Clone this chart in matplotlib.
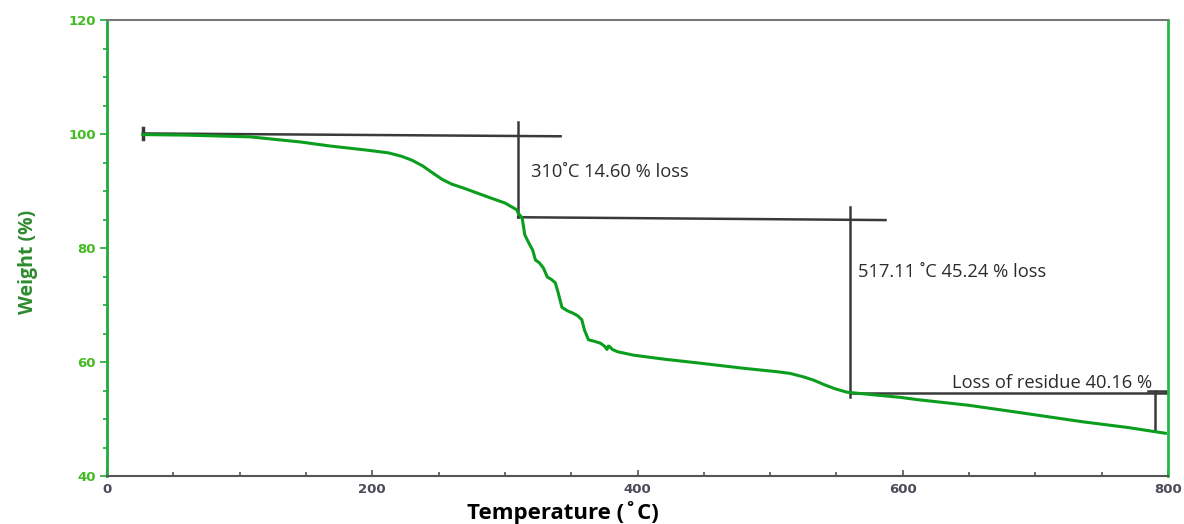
import matplotlib
matplotlib.use("Agg")
import matplotlib.pyplot as plt
from matplotlib.ticker import MultipleLocator

# TGA curve: temperature (°C) vs remaining weight (%)
temperature = [27, 60, 108, 146, 168, 195, 212, 222, 230, 238, 246, 253, 260, 269, 289, 300, 309,
               310, 313, 315, 318, 321, 323, 326, 329, 332, 335, 338, 340, 343, 347,
               351, 355, 358, 360, 363, 368, 372, 375, 377, 378, 379, 381, 385, 397,
               420, 447, 480, 505, 515, 525, 533, 541, 549, 558, 580, 598, 611, 650, 686, 736,
               770, 798]
weight = [99.9, 99.8, 99.5, 98.6, 97.9, 97.2, 96.7, 96.1, 95.4, 94.4, 93.1, 92.0, 91.2, 90.5, 88.8, 87.9, 86.7,
          86.1, 85.3, 82.3, 80.9, 79.6, 77.9, 77.4, 76.5, 74.9, 74.5, 73.9, 72.3, 69.6, 69.0,
          68.6, 68.1, 67.4, 65.6, 63.9, 63.6, 63.3, 62.8, 62.2, 62.8, 62.7, 62.2, 61.8, 61.2,
          60.5, 59.8, 58.9, 58.3, 58.0, 57.4, 56.8, 56.0, 55.3, 54.7, 54.2, 53.8, 53.4, 52.4, 51.2, 49.5,
          48.5, 47.5]

# Step markers: (x0, y0, x1, y1) segments in data units
step_hlines = [(27, 100.1, 342, 99.6), (310, 85.4, 587, 84.9), (560, 54.6, 800, 54.6)]
step_vlines = [(310, 85.4, 102.1), (560, 53.9, 87.2), (790, 48.1, 54.9)]
step_labels = ["310\u02daC 14.60 % loss", "517.11 \u02daC 45.24 % loss",
               "Loss of residue 40.16 %"]
label_pos = [(320, 93.3), (566, 75.8), (637, 56.4)]

x_ticks = [0, 200, 400, 600, 800]
y_ticks = [40, 60, 80, 100, 120]

fig = plt.figure(figsize=(11.84, 5.24), dpi=100)
ax = fig.add_axes([0.0904, 0.0916, 0.8961, 0.8702])

ax.plot(temperature, weight, color="#0b9e1e", lw=2.2, zorder=3,
        solid_joinstyle="round")

line_kw = dict(color="#3a3a3a", lw=1.8, zorder=2)
for x0, y0, x1, y1 in step_hlines:
    ax.plot([x0, x1], [y0, y1], **line_kw)
for x, y0, y1 in step_vlines:
    ax.plot([x, x], [y0, y1], **line_kw)
# end caps
ax.plot([27, 27], [99.2, 101.0], color="#3a3a3a", lw=2.5, zorder=2)
ax.plot([785, 800], [54.9, 54.9], **line_kw)

for (x, y), s in zip(label_pos, step_labels):
    ax.text(x, y, s, fontsize=13.2, color="#2b2b2b", va="center", ha="left",
            family=["Open Sans", "DejaVu Sans"])

ax.set_xlim(0, 800)
ax.set_ylim(40, 120)
ax.set_xticks(x_ticks)
ax.set_yticks(y_ticks)
ax.xaxis.set_minor_locator(MultipleLocator(50))
ax.yaxis.set_minor_locator(MultipleLocator(5))

ax.tick_params(axis="x", which="both", direction="in", colors="#555555",
               labelcolor="#4a4a5a", labelsize=9.5, pad=5)
ax.tick_params(axis="x", which="major", length=4, width=1.2)
ax.tick_params(axis="x", which="minor", length=3, width=1.2)
ax.tick_params(axis="y", which="both", direction="out", colors="#22aa3a",
               labelcolor="#44bb22", labelsize=9.5, pad=3)
ax.tick_params(axis="y", which="major", length=5, width=1.2)
ax.tick_params(axis="y", which="minor", length=3, width=1.2)
for lbl in ax.get_xticklabels() + ax.get_yticklabels():
    lbl.set_fontweight("bold")

ax.spines["left"].set_color("#22aa3a")
ax.spines["left"].set_linewidth(2.0)
ax.spines["right"].set_color("#22bb44")
ax.spines["right"].set_linewidth(2.0)
ax.spines["top"].set_color("#777777")
ax.spines["top"].set_linewidth(1.5)
ax.spines["bottom"].set_color("#555555")
ax.spines["bottom"].set_linewidth(1.5)

ax.set_xlabel("Temperature (\u02daC)", fontsize=16, fontweight="bold",
              color="black", family=["Open Sans", "DejaVu Sans"])
ax.xaxis.label.set_va("center")
ax.xaxis.set_label_coords(0.43, -0.079)
ax.set_ylabel("Weight (%)", fontsize=14, fontweight="bold", color="#2e8b2e",
              family=["Open Sans", "DejaVu Sans"])
ax.yaxis.label.set_va("center")
ax.yaxis.set_label_coords(-0.0745, 0.469)

fig.savefig("out.png", dpi=100, facecolor="white")
